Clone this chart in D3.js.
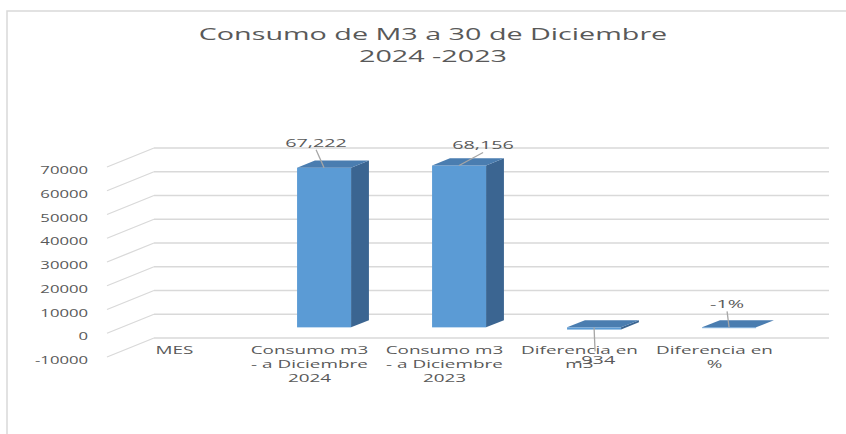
<!DOCTYPE html>
<html>
<head>
<meta charset="utf-8">
<script src="https://cdn.jsdelivr.net/npm/d3@7"></script>
<style>
  body { margin: 0; background: #fff; }
  text { font-family: "Open Sans", sans-serif; fill: #595959; }
</style>
</head>
<body>
<div id="chart"></div>
<script>
// data
const categories = ["MES", "Consumo m3 - a Diciembre 2024", "Consumo m3 - a Diciembre 2023", "Diferencia en m3", "Diferencia en %"];
const categoryLines = [["MES"], ["Consumo m3", "- a Diciembre", "2024"], ["Consumo m3", "- a Diciembre", "2023"], ["Diferencia en", "m3"], ["Diferencia en", "%"]];
const values = [null, 67222, 68156, -934, -0.01];
const valueLabels = ["", "67,222", "68,156", "-934", "-1%"];
const yTicks = [70000, 60000, 50000, 40000, 30000, 20000, 10000, 0, -10000];
const titleLines = ["Consumo de M3 a 30 de Diciembre", "2024 -2023"];

// layout
const width = 846, height = 434;
const sx = 1.72;     // horizontal stretch of the text
const tickSx = 1.45; // tick labels are a bit narrower
const depth = { dx: 47, dy: -19 };
const d0 = 0.31, d1 = 0.69;
// manual label placement (relative to top-front centre of the bar)
const labelNudge = [null, [-8, -25], [24, -20], [1, 33], [-2, -23]];

const svg = d3.select("#chart").append("svg")
  .attr("width", width)
  .attr("height", height);

// border of the chart area
svg.append("path")
  .attr("d", `M7,${height} L7,11 L${width},11`)
  .attr("fill", "none")
  .attr("stroke", "#d9d9d9")
  .attr("stroke-width", 1.5);

const x = d3.scaleBand().domain(categories).range([107, 782]).padding(0);
const y = d3.scaleLinear().domain([-10000, 70000]).range([357, 167]);
const barW = x.bandwidth() * 0.4;

// title
titleLines.forEach((t, i) => {
  svg.append("g")
    .attr("transform", `translate(433,${40 + i * 22}) scale(${sx},1)`)
    .append("text")
    .attr("text-anchor", "middle")
    .style("font-size", "16.7px")
    .text(t);
});

// gridlines on back wall and side wall
const grid = svg.append("g").attr("class", "grid");
yTicks.forEach(t => {
  grid.append("line")
    .attr("x1", 107 + depth.dx).attr("x2", 829)
    .attr("y1", y(t) + depth.dy).attr("y2", y(t) + depth.dy)
    .attr("stroke", "#d9d9d9").attr("stroke-width", 1.3);
  grid.append("line")
    .attr("x1", 107).attr("x2", 107 + depth.dx)
    .attr("y1", y(t)).attr("y2", y(t) + depth.dy)
    .attr("stroke", "#d9d9d9").attr("stroke-width", 1.3);
});

// y tick labels
const yAxis = svg.append("g").attr("class", "y-axis");
yTicks.forEach(t => {
  yAxis.append("g")
    .attr("transform", `translate(88,${y(t) + 7}) scale(${tickSx},1)`)
    .append("text")
    .attr("text-anchor", "end")
    .style("font-size", "11.5px")
    .text(t);
});

// category labels
const xAxis = svg.append("g").attr("class", "x-axis");
categories.forEach((c, i) => {
  categoryLines[i].forEach((line, j) => {
    xAxis.append("g")
      .attr("transform", `translate(${x(c) + x.bandwidth() / 2},${354 + j * 14}) scale(${sx},1)`)
      .append("text")
      .attr("text-anchor", "middle")
      .style("font-size", "11px")
      .text(line);
  });
});

// bars
const bars = svg.append("g").attr("class", "bars");
const bx = depth.dx * (d1 - d0), by = depth.dy * (d1 - d0);
categories.forEach((c, i) => {
  const v = values[i];
  if (v === null) return;
  const left = x(c) + x.bandwidth() / 2 - barW / 2 + depth.dx * d0;
  const right = left + barW;
  const yTop = y(Math.max(v, 0)) + depth.dy * d0;
  const yBot = y(Math.min(v, 0)) + depth.dy * d0;
  const g = bars.append("g");
  // side face
  g.append("path")
    .attr("d", `M${right},${yTop} L${right + bx},${yTop + by} L${right + bx},${yBot + by} L${right},${yBot} Z`)
    .attr("fill", "#3b6591");
  // front face
  g.append("rect")
    .attr("x", left).attr("y", yTop)
    .attr("width", barW).attr("height", Math.max(yBot - yTop, 0.8))
    .attr("fill", "#5b9bd5");
  // top face
  g.append("path")
    .attr("d", `M${left},${yTop} L${left + bx},${yTop + by} L${right + bx},${yTop + by} L${right},${yTop} Z`)
    .attr("fill", "#4a7db0");

  // data label with leader line
  const ax = (left + right) / 2, ay = yTop;
  const [dx, dy] = labelNudge[i];
  const lx = ax + dx, ly = ay + dy;
  g.append("line")
    .attr("x1", ax).attr("y1", ay)
    .attr("x2", lx).attr("y2", ly + (dy < 0 ? 7 : -9))
    .attr("stroke", "#a6a6a6").attr("stroke-width", 1.3);
  g.append("g")
    .attr("transform", `translate(${lx},${ly + 4}) scale(${sx},1)`)
    .append("text")
    .attr("text-anchor", "middle")
    .style("font-size", "11.5px")
    .text(valueLabels[i]);
});
</script>
</body>
</html>
